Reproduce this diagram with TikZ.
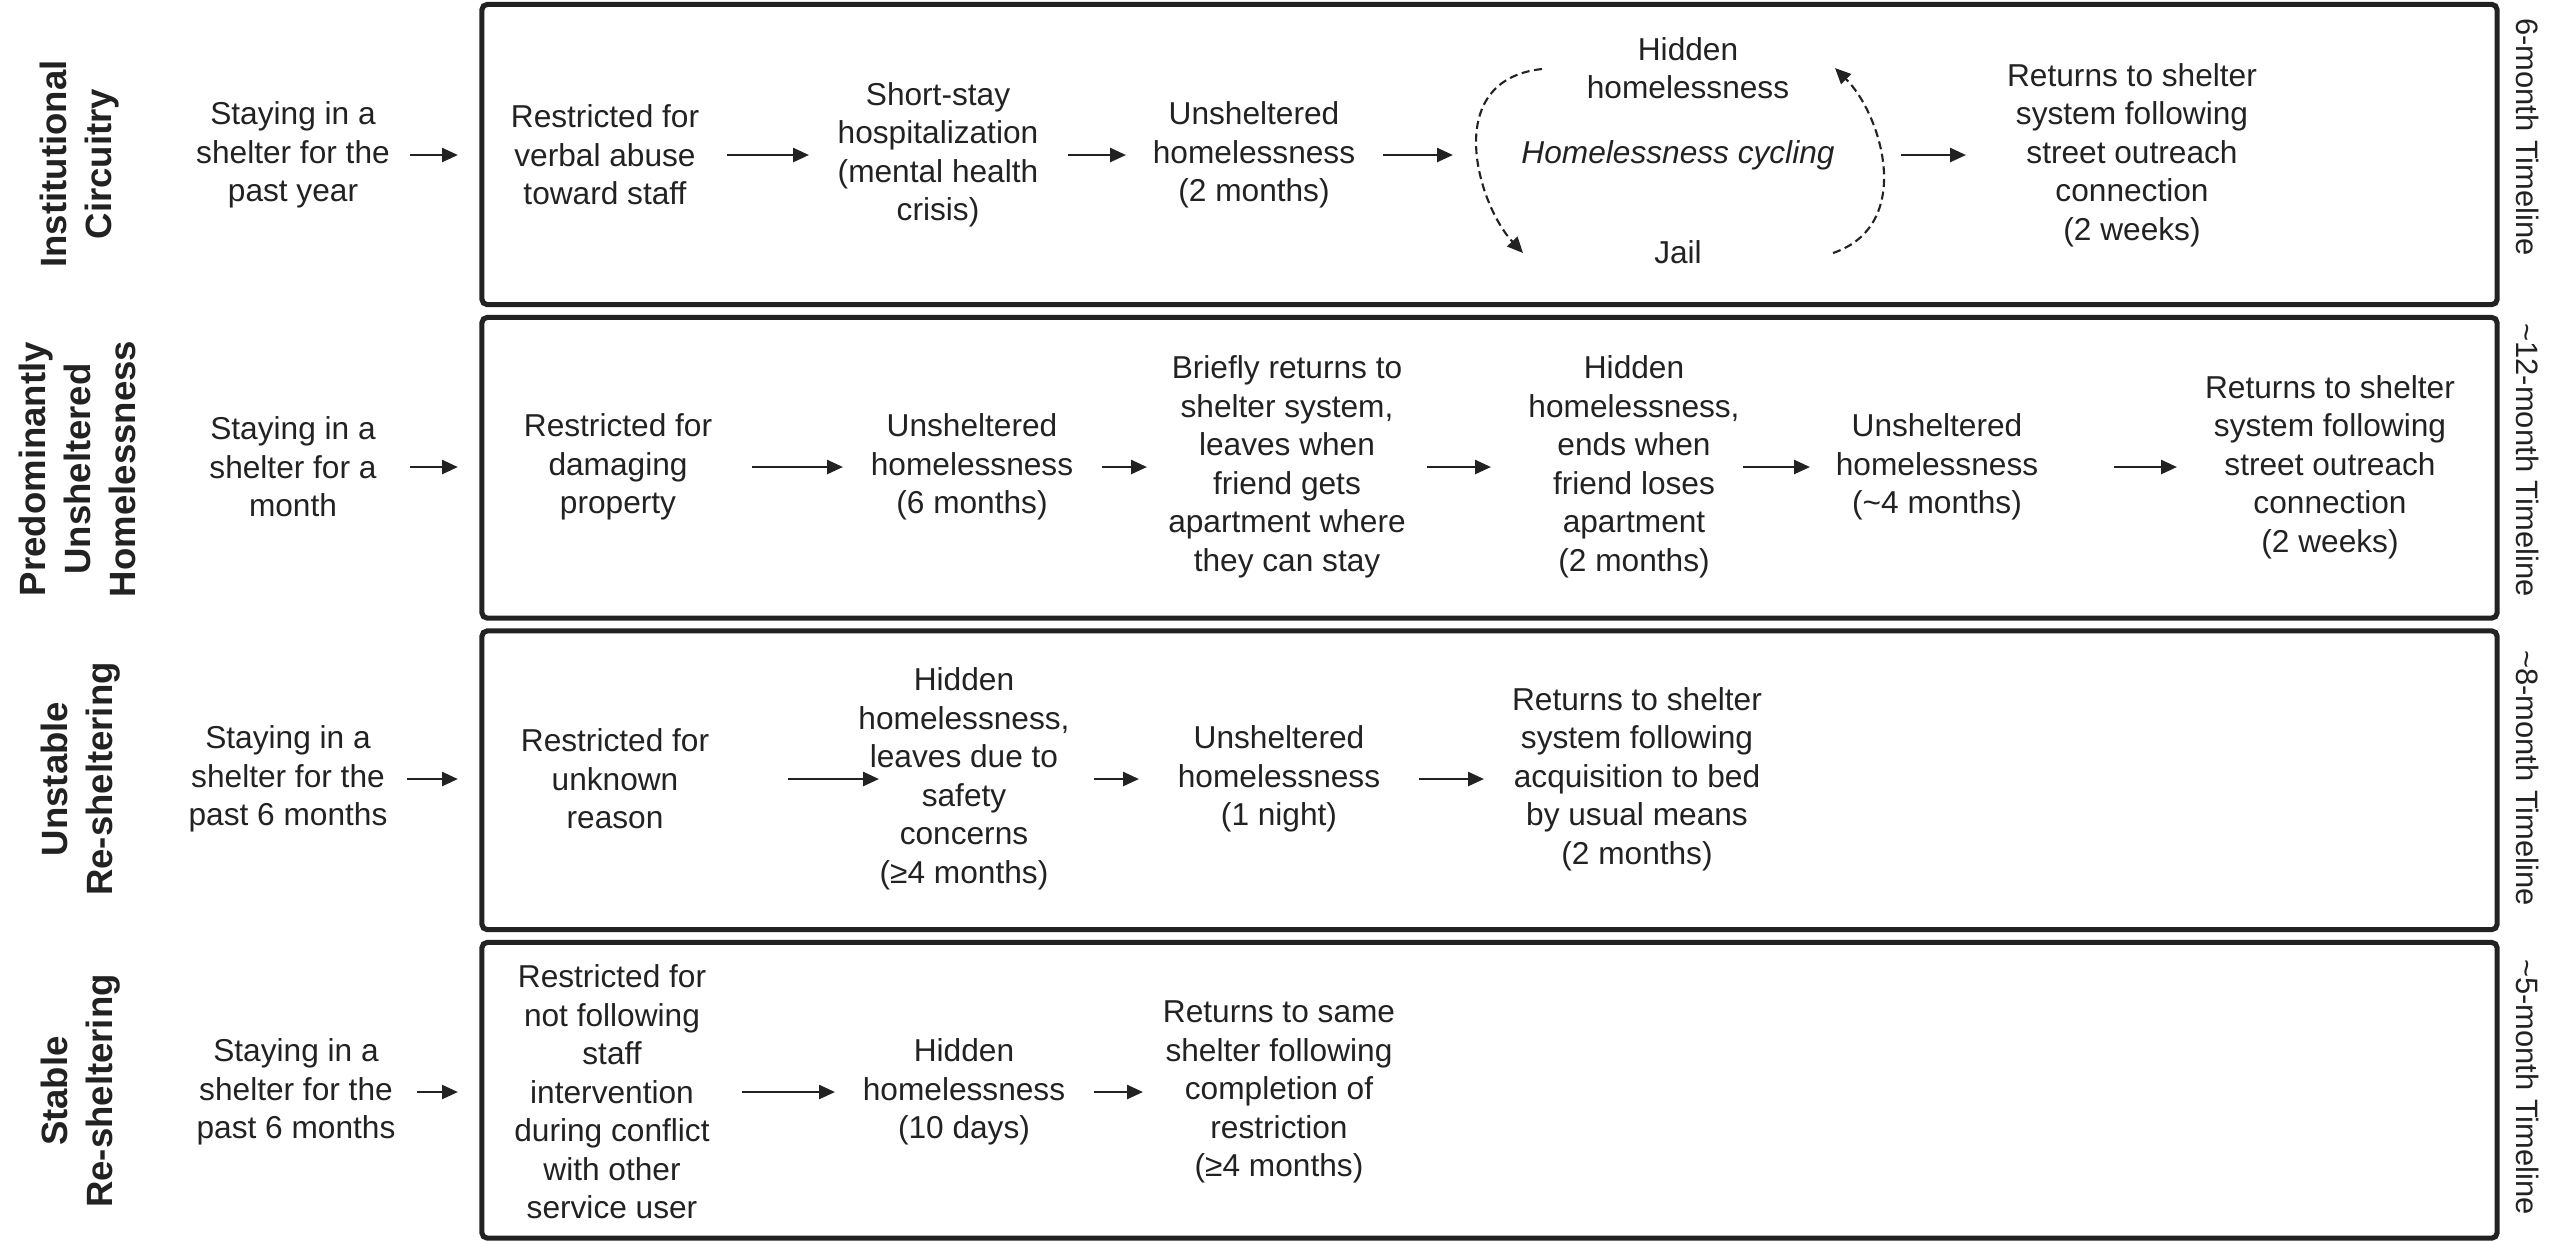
\documentclass[tikz,border=0pt]{standalone}
\usepackage{fontspec}
\setmainfont{Liberation Sans}
\usetikzlibrary{arrows.meta}
\definecolor{ink}{RGB}{34,34,34}
\begin{document}
\begin{tikzpicture}[x=0.01cm,y=-0.01cm,
  txt/.style={font=\fontsize{9}{10.95}\selectfont, align=center, inner sep=0pt, text=ink},
  itxt/.style={txt, font=\itshape\fontsize{9}{10.95}\selectfont},
  lab/.style={font=\bfseries\fontsize{10.4}{12.8}\selectfont, align=center, inner sep=0pt, text=ink, rotate=90},
  tl/.style={font=\fontsize{8.8}{10.6}\selectfont, inner sep=0pt, text=ink, rotate=-90},
  panel/.style={draw=ink, line width=1.45pt, rounded corners=1.5pt, minimum width=20.14cm, inner sep=0pt},
  arr/.style={draw=ink, line width=0.6pt, -{Triangle[length=4.5pt,width=4pt]}},
  cycarr/.style={arr, dash pattern=on 2.3pt off 1.3pt}
]
\useasboundingbox (0,0) rectangle (2552,1241);

% panels
\node[panel, minimum height=3.00cm]  (box1) at (1489.5,154.5) {};
\node[panel, minimum height=3.005cm] (box2) at (1489.5,467.75) {};
\node[panel, minimum height=2.985cm] (box3) at (1489.5,780.25) {};
\node[panel, minimum height=2.955cm] (box4) at (1489.5,1090.25) {};

% row labels
\node[lab] (L1) at (80,164) {Institutional\\Circuitry};
\node[lab] (L2) at (77,469) {Predominantly\\Unsheltered\\Homelessness};
\node[lab] (L3) at (81,779) {Unstable\\Re-sheltering};
\node[lab] (L4) at (81,1091) {Stable\\Re-sheltering};

% timeline labels
\node[tl] (t1) at (2528,137) {6-month Timeline};
\node[tl] (t2) at (2528,460) {\textasciitilde12-month Timeline};
\node[tl] (t3) at (2528,778) {\textasciitilde8-month Timeline};
\node[tl] (t4) at (2528,1087) {\textasciitilde5-month Timeline};

% starting points
\node[txt] (s1) at (293,155) {Staying in a\\shelter for the\\past year};
\node[txt] (s2) at (293,467) {Staying in a\\shelter for a\\month};
\node[txt] (s3) at (288,779) {Staying in a\\shelter for the\\past 6 months};
\node[txt] (s4) at (296,1092) {Staying in a\\shelter for the\\past 6 months};

\draw[arr, shorten <=1.17cm, shorten >=0.215cm] (s1.center) -- (s1.center -| box1.west);
\draw[arr, shorten <=1.17cm, shorten >=0.215cm] (s2.center) -- (s2.center -| box2.west);
\draw[arr, shorten <=1.19cm, shorten >=0.215cm] (s3.center) -- (s3.center -| box3.west);
\draw[arr, shorten <=1.21cm, shorten >=0.215cm] (s4.center) -- (s4.center -| box4.west);

% row 1
\node[txt] (a1) at (605,155) {Restricted for\\verbal abuse\\toward staff};
\node[txt] (b1) at (938,155) {Short-stay\\hospitalization\\(mental health\\crisis)};
\node[txt] (c1) at (1254,155) {Unsheltered\\homelessness\\(2 months)};
\node[txt] (hid) at (1688,68) {Hidden\\homelessness};
\node[itxt] (cyc) at (1678,155) {Homelessness cycling};
\node[txt] (jail) at (1678,252) {Jail};
\node[txt] (d1) at (2132,155) {Returns to shelter\\system following\\street outreach\\connection\\(2 weeks)};

\draw[arr, shorten <=1.22cm, shorten >=1.29cm] (a1.center) -- (b1.center);
\draw[arr, shorten <=1.30cm, shorten >=1.28cm] (b1.center) -- (c1.center);
\draw[arr, shorten <=1.29cm, shorten >=2.25cm] (c1.center) -- (cyc.center);
\draw[arr, shorten <=2.23cm, shorten >=1.66cm] (cyc.center) -- (d1.center);

\coordinate (la) at (1542,69);
\coordinate (lb) at (1523,253);
\coordinate (ra) at (1833,253);
\coordinate (rb) at (1835,68);
\draw[cycarr] (la) .. controls (1440,80) and (1478,205) .. (lb);
\draw[cycarr] (ra) .. controls (1915,225) and (1882,115) .. (rb);

% row 2
\node[txt] (a2) at (618,467) {Restricted for\\damaging\\property};
\node[txt] (b2) at (972,467) {Unsheltered\\homelessness\\(6 months)};
\node[txt] (c2) at (1287,467) {Briefly returns to\\shelter system,\\leaves when\\friend gets\\apartment where\\they can stay};
\node[txt] (d2) at (1634,467) {Hidden\\homelessness,\\ends when\\friend loses\\apartment\\(2 months)};
\node[txt] (e2) at (1937,467) {Unsheltered\\homelessness\\(\textasciitilde4 months)};
\node[txt] (f2) at (2330,467) {Returns to shelter\\system following\\street outreach\\connection\\(2 weeks)};

\draw[arr, shorten <=1.34cm, shorten >=1.29cm] (a2.center) -- (b2.center);
\draw[arr, shorten <=1.30cm, shorten >=1.40cm] (b2.center) -- (c2.center);
\draw[arr, shorten <=1.40cm, shorten >=1.43cm] (c2.center) -- (d2.center);
\draw[arr, shorten <=1.09cm, shorten >=1.27cm] (d2.center) -- (e2.center);
\draw[arr, shorten <=1.77cm, shorten >=1.53cm] (e2.center) -- (f2.center);

% row 3
\node[txt] (a3) at (615,779) {Restricted for\\unknown\\reason};
\node[txt] (b3) at (964,779) {Hidden\\homelessness,\\leaves due to\\safety\\concerns\\(≥4 months)};
\node[txt] (c3) at (1279,779) {Unsheltered\\homelessness\\(1 night)};
\node[txt] (d3) at (1637,779) {Returns to shelter\\system following\\acquisition to bed\\by usual means\\(2 months)};

\draw[arr, shorten <=1.73cm, shorten >=0.85cm] (a3.center) -- (b3.center);
\draw[arr, shorten <=1.30cm, shorten >=1.40cm] (b3.center) -- (c3.center);
\draw[arr, shorten <=1.40cm, shorten >=1.53cm] (c3.center) -- (d3.center);

% row 4
\node[txt] (a4) at (612,1092) {Restricted for\\not following\\staff\\intervention\\during conflict\\with other\\service user};
\node[txt] (b4) at (964,1092) {Hidden\\homelessness\\(10 days)};
\node[txt] (c4) at (1279,1092) {Returns to same\\shelter following\\completion of\\restriction\\(≥4 months)};

\draw[arr, shorten <=1.30cm, shorten >=1.29cm] (a4.center) -- (b4.center);
\draw[arr, shorten <=1.30cm, shorten >=1.36cm] (b4.center) -- (c4.center);
\end{tikzpicture}
\end{document}
